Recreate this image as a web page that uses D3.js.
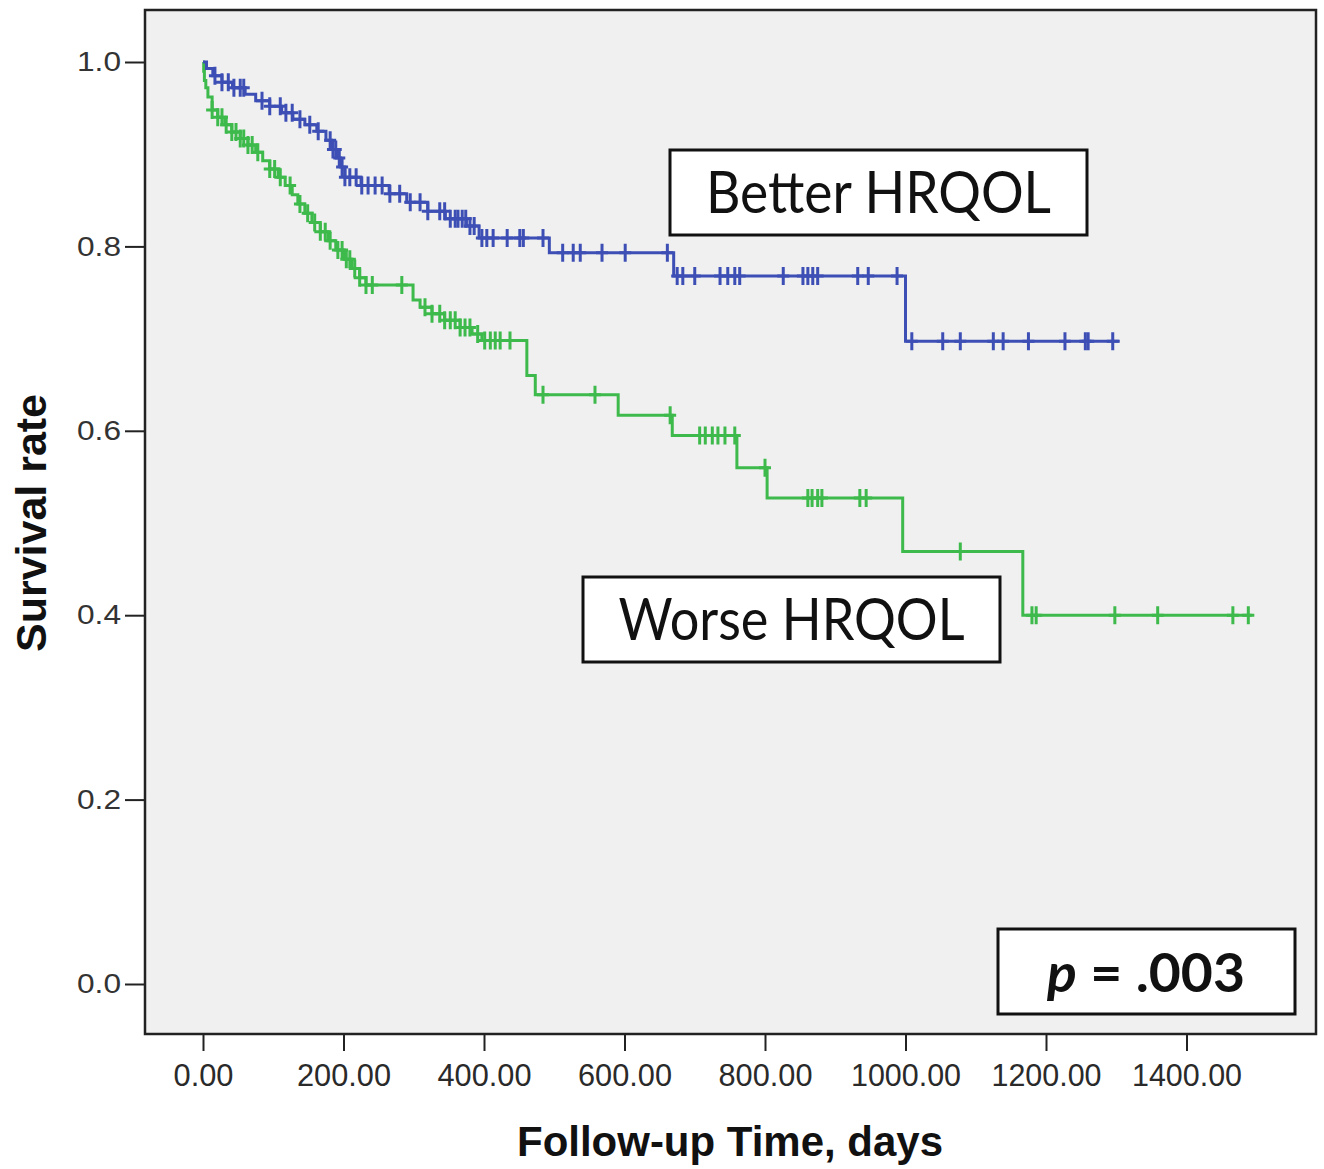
<!DOCTYPE html>
<html>
<head>
<meta charset="utf-8">
<script src="https://cdn.jsdelivr.net/npm/d3@7"></script>
<style>
  body { margin: 0; background: #fff; }
  svg { display: block; }
</style>
</head>
<body>
<div class="graphContainer"></div>
<script>
// size of the page
const w = 1324;
const h = 1169;

// ticks
const xTicks = [0, 200, 400, 600, 800, 1000, 1200, 1400];
const yTicks = [0, 0.2, 0.4, 0.6, 0.8, 1.0];

// Better HRQOL: [day, survival after drop]
const betterSteps = [[0,1.0],[5,0.993],[14,0.985],[27,0.978],[42,0.972],[60,0.965],[75,0.958],
  [95,0.952],[112,0.945],[128,0.938],[145,0.932],[162,0.925],[175,0.915],[183,0.905],[190,0.896],
  [196,0.886],[202,0.875],[225,0.866],[265,0.857],[290,0.848],[320,0.838],[345,0.83],[375,0.822],
  [393,0.809],[493,0.793],[670,0.768],[1000,0.697]];
const betterEnd = 1305;
const betterCensor = [17,27,36,44,53,58,84,95,110,118,127,138,152,164,181,185,189,194,198,202,
  209,218,226,235,245,255,266,280,295,309,320,337,344,352,359,363,369,374,380,386,397,404,413,
  433,451,456,484,512,527,537,568,601,661,675,683,700,736,747,757,764,826,854,861,868,875,932,
  947,988,1009,1053,1078,1125,1139,1175,1227,1256,1260,1295];

// Worse HRQOL
const worseSteps = [[0,1.0],[1,0.99],[2,0.98],[4,0.972],[7,0.962],[13,0.948],[21,0.94],[31,0.932],
  [41,0.924],[53,0.917],[64,0.91],[75,0.902],[85,0.893],[95,0.884],[107,0.875],[117,0.866],
  [127,0.856],[135,0.846],[145,0.836],[155,0.826],[167,0.816],[178,0.806],[189,0.796],[201,0.786],
  [212,0.776],[223,0.766],[232,0.758],[299,0.742],[309,0.734],[326,0.727],[344,0.72],[366,0.712],
  [383,0.705],[397,0.698],[461,0.66],[473,0.639],[591,0.617],[668,0.595],[760,0.56],[803,0.527],
  [996,0.469],[1167,0.4]];
const worseEnd = 1493;
const worseCensor = [13,21,27,33,41,47,53,58,64,70,78,95,102,110,124,138,149,159,167,174,181,192,
  198,204,209,216,223,232,241,283,316,326,337,344,352,359,366,373,380,391,401,409,416,423,437,
  484,558,665,707,715,725,733,743,757,800,861,867,875,881,935,944,1078,1180,1186,1298,1359,1466,1488];

const blue = "#3d4fb5";
const green = "#3dba4b";

const svg = d3.select(".graphContainer").append("svg")
  .attr("width", w)
  .attr("height", h);

// plot frame
svg.append("rect")
  .attr("x", 145).attr("y", 10)
  .attr("width", 1171).attr("height", 1024)
  .attr("fill", "#f0f0f0")
  .attr("stroke", "#222")
  .attr("stroke-width", 2.5);

const xScale = d3.scaleLinear().domain([0, 1400]).range([203, 1186.5]);
const yScale = d3.scaleLinear().domain([0, 1]).range([984, 62]);

const xAxis = d3.axisBottom(xScale)
  .tickValues(xTicks)
  .tickSize(16)
  .tickPadding(12)
  .tickFormat(d3.format(".2f"));

const yAxis = d3.axisLeft(yScale)
  .tickValues(yTicks)
  .tickSize(20)
  .tickPadding(4)
  .tickFormat(d3.format(".1f"));

const gx = svg.append("g")
  .attr("transform", "translate(0,1035)")
  .call(xAxis);
gx.select(".domain").remove();
gx.selectAll(".tick line").attr("stroke", "#222").attr("stroke-width", 2);
gx.selectAll(".tick text")
  .attr("fill", "#2a2a2a")
  .attr("textLength", d => d >= 1000 ? 110 : (d > 0 ? 94 : 60))
  .attr("lengthAdjust", "spacingAndGlyphs")
  .style("font-family", "'Liberation Sans', Arial, sans-serif")
  .style("font-size", "32px");

const gy = svg.append("g")
  .attr("transform", "translate(145,0)")
  .call(yAxis);
gy.select(".domain").remove();
gy.selectAll(".tick line").attr("stroke", "#222").attr("stroke-width", 2);
gy.selectAll(".tick text")
  .attr("fill", "#333")
  .attr("textLength", 44)
  .attr("lengthAdjust", "spacingAndGlyphs")
  .style("font-family", "'Liberation Sans', Arial, sans-serif")
  .style("font-size", "27px");

// axis titles
svg.append("text")
  .attr("x", 730).attr("y", 1156)
  .attr("text-anchor", "middle")
  .attr("textLength", 426)
  .attr("lengthAdjust", "spacingAndGlyphs")
  .style("font-family", "'Liberation Sans', Arial, sans-serif")
  .style("font-weight", "bold")
  .style("font-size", "42px")
  .attr("fill", "#111")
  .text("Follow-up Time, days");

svg.append("text")
  .attr("transform", "translate(46,523) rotate(-90)")
  .attr("text-anchor", "middle")
  .attr("textLength", 258)
  .attr("lengthAdjust", "spacingAndGlyphs")
  .style("font-family", "'Liberation Sans', Arial, sans-serif")
  .style("font-weight", "bold")
  .style("font-size", "42px")
  .attr("fill", "#111")
  .text("Survival rate");

// step curves
const line = d3.line()
  .x(d => xScale(d[0]))
  .y(d => yScale(d[1]))
  .curve(d3.curveStepAfter);

function survAt(steps, t) {
  let s = steps[0][1];
  steps.forEach(d => { if (d[0] <= t) s = d[1]; });
  return s;
}

function drawCurve(steps, end, censor, color) {
  const pts = steps.concat([[end, steps[steps.length - 1][1]]]);
  svg.append("path")
    .attr("d", line(pts))
    .attr("fill", "none")
    .attr("stroke", color)
    .attr("stroke-width", 3);

  svg.append("g").selectAll("path")
    .data(censor)
    .enter()
    .append("path")
    .attr("d", d => {
      const cx = xScale(d), cy = yScale(survAt(steps, d));
      return `M${cx - 6},${cy}h12M${cx},${cy - 9}v18`;
    })
    .attr("stroke", color)
    .attr("stroke-width", 3)
    .attr("fill", "none");
}

drawCurve(worseSteps, worseEnd, worseCensor, green);
drawCurve(betterSteps, betterEnd, betterCensor, blue);

// label boxes
function labelBox(x, y, bw, bh, txt, tl) {
  svg.append("rect")
    .attr("x", x).attr("y", y)
    .attr("width", bw).attr("height", bh)
    .attr("fill", "#fff")
    .attr("stroke", "#111")
    .attr("stroke-width", 3);
  return svg.append("text")
    .attr("x", x + bw / 2).attr("y", y + bh / 2 + 20)
    .attr("text-anchor", "middle")
    .attr("textLength", tl)
    .attr("lengthAdjust", "spacingAndGlyphs")
    .style("font-family", "Lato, 'Open Sans', sans-serif")
    .style("font-size", "58px")
    .attr("fill", "#111")
    .text(txt);
}

labelBox(670, 150, 417, 85, "Better HRQOL", 345);
labelBox(583, 577, 417, 85, "Worse HRQOL", 346);

svg.append("rect")
  .attr("x", 998).attr("y", 929)
  .attr("width", 297).attr("height", 85)
  .attr("fill", "#fff")
  .attr("stroke", "#111")
  .attr("stroke-width", 3);
const pt = svg.append("text")
  .attr("x", 1146).attr("y", 992)
  .attr("text-anchor", "middle")
  .attr("textLength", 198)
  .attr("lengthAdjust", "spacingAndGlyphs")
  .style("font-family", "Lato, 'Open Sans', sans-serif")
  .style("font-weight", "bold")
  .style("font-size", "54px")
  .attr("fill", "#111");
pt.append("tspan").style("font-style", "italic").text("p");
pt.append("tspan").text(" = .003");
</script>
</body>
</html>
